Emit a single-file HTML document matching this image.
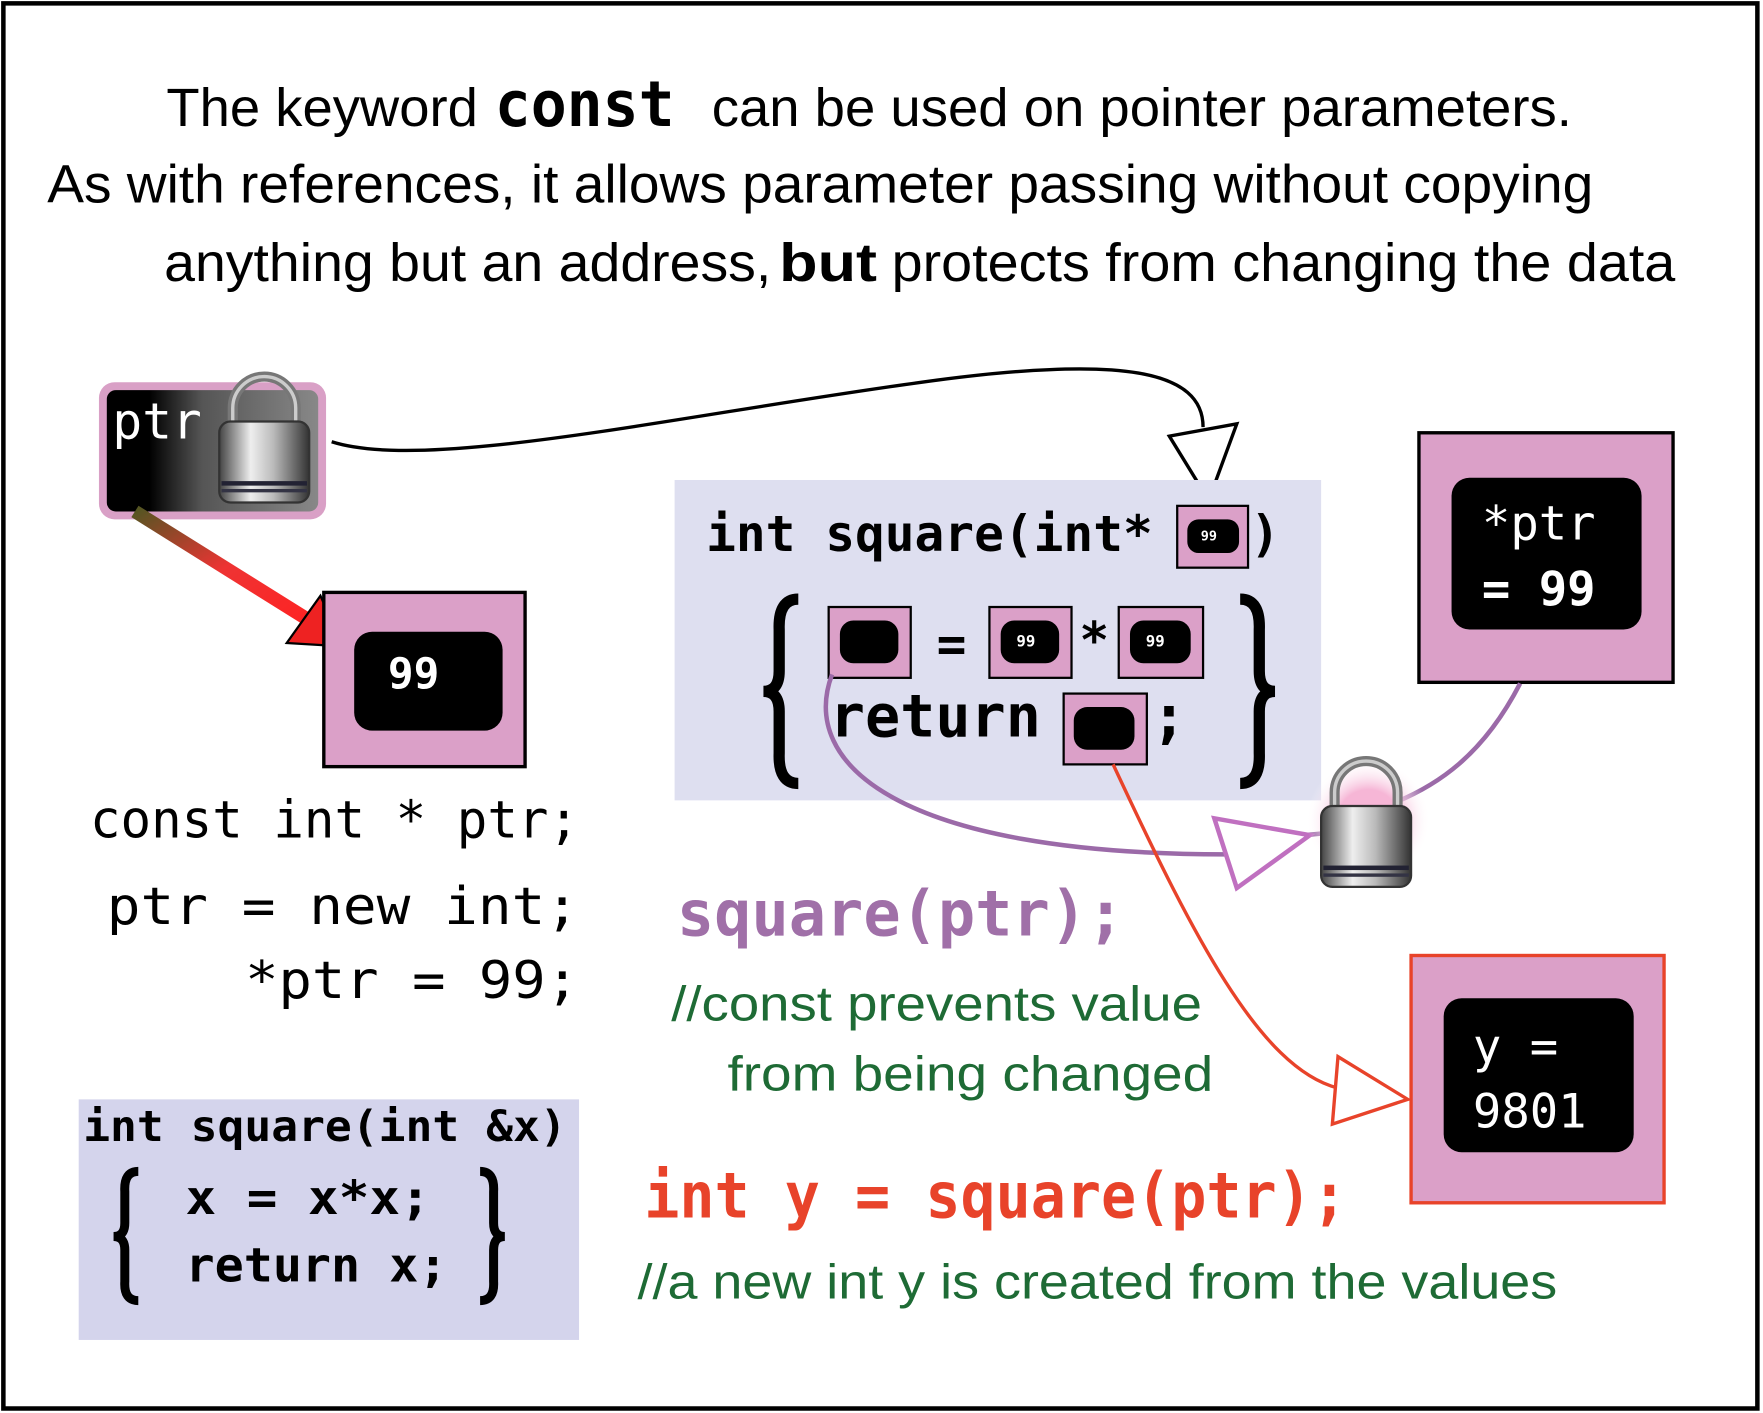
<!DOCTYPE html>
<html><head><meta charset="utf-8"><style>
html,body{margin:0;padding:0;background:#fff}
svg{display:block}
.mono{font-family:"DejaVu Sans Mono","Liberation Mono",monospace}
.sans{font-family:"Liberation Sans","DejaVu Sans",sans-serif}
</style></head><body>
<svg width="1763" height="1413" viewBox="0 0 1568 1257" preserveAspectRatio="none" xmlns="http://www.w3.org/2000/svg">
<defs>
<linearGradient id="ptrg" x1="0" x2="1" y1="0" y2="0">
<stop offset="0.2" stop-color="#000"/><stop offset="0.45" stop-color="#555"/><stop offset="1" stop-color="#888"/></linearGradient>
<linearGradient id="lockg" x1="0" x2="1">
<stop offset="0" stop-color="#444"/><stop offset="0.35" stop-color="#eee"/><stop offset="0.6" stop-color="#bbb"/><stop offset="1" stop-color="#333"/></linearGradient>
<linearGradient id="redarr" x1="0" y1="0" x2="1" y2="1">
<stop offset="0" stop-color="#552"/><stop offset="0.5" stop-color="#e33"/><stop offset="1" stop-color="#f22"/></linearGradient>
<radialGradient id="glow"><stop offset="0.5" stop-color="#f6b6d6"/><stop offset="1" stop-color="#fff" stop-opacity="0"/></radialGradient>
<g id="lock">
<path d="M12,45 V30 A28,28 0 0 1 68,30 V45" fill="none" stroke="#777" stroke-width="9"/>
<path d="M12,45 V30 A28,28 0 0 1 68,30 V45" fill="none" stroke="#ccc" stroke-width="3"/>
<rect x="0" y="42" width="80" height="72" rx="10" fill="url(#lockg)" stroke="#333" stroke-width="2"/>
<rect x="2" y="95" width="76" height="4" fill="#223"/>
<rect x="2" y="102" width="76" height="3" fill="#334"/>
</g>
</defs>
<rect x="3" y="3" width="1560" height="1250" fill="#fff" stroke="#000" stroke-width="4"/>

<!-- title -->
<text class="sans" font-size="48" y="112"><tspan x="148" textLength="277" lengthAdjust="spacingAndGlyphs">The keyword</tspan></text>
<text class="mono" font-size="56" font-weight="bold" x="440" y="112" textLength="160" lengthAdjust="spacingAndGlyphs">const</text>
<text class="sans" font-size="48" x="633" y="112" textLength="765" lengthAdjust="spacingAndGlyphs">can be used on pointer parameters.</text>
<text class="sans" font-size="48" x="42" y="180" textLength="1375" lengthAdjust="spacingAndGlyphs">As with references, it allows parameter passing without copying</text>
<text class="sans" font-size="48" x="146" y="250" textLength="540" lengthAdjust="spacingAndGlyphs">anything but an address,</text>
<text class="sans" font-size="48" font-weight="bold" x="693" y="250" textLength="87" lengthAdjust="spacingAndGlyphs">but</text>
<text class="sans" font-size="48" x="793" y="250" textLength="697" lengthAdjust="spacingAndGlyphs">protects from changing the data</text>

<!-- top connector -->
<path d="M295,393 C380,420 600,370 820,340 C1000,315 1070,330 1070,380" fill="none" stroke="#000" stroke-width="3"/>
<polygon points="1040,388 1100,377 1075,445" fill="#fff" stroke="#000" stroke-width="3"/>

<!-- ptr box -->
<rect x="88" y="340" width="202" height="122" rx="14" fill="#d9a0c6"/>
<rect x="95" y="347" width="188" height="108" rx="8" fill="url(#ptrg)"/>
<text class="mono" font-size="44" fill="#fff" x="100" y="390">ptr</text>
<use href="#lock" x="195" y="333"/>

<!-- red arrow -->
<line x1="120" y1="455" x2="280" y2="555" stroke="url(#redarr)" stroke-width="12"/>
<polygon points="305,575 255,572 285,530" fill="#ee2222" stroke="#000" stroke-width="2"/>

<!-- 99 box -->
<rect x="288" y="527" width="179" height="155" fill="#dba0c8" stroke="#000" stroke-width="3"/>
<rect x="315" y="562" width="132" height="88" rx="16" fill="#000"/>
<text class="mono" font-size="38" font-weight="bold" fill="#fff" x="345" y="612">99</text>

<!-- code -->
<text class="mono" font-size="46" x="80" y="745" textLength="435" lengthAdjust="spacingAndGlyphs">const int * ptr;</text>
<text class="mono" font-size="46" x="95" y="822" textLength="420" lengthAdjust="spacingAndGlyphs">ptr = new int;</text>
<text class="mono" font-size="46" x="218" y="888" textLength="297" lengthAdjust="spacingAndGlyphs">*ptr = 99;</text>

<!-- bottom-left box -->
<rect x="70" y="978" width="445" height="214" fill="#d4d4ec"/>
<text class="mono" font-size="38" font-weight="bold" x="74" y="1015" textLength="430" lengthAdjust="spacingAndGlyphs">int square(int &amp;x)</text>
<path d="M123,1042 Q110,1042 111,1060 L111,1088 Q111,1100 101,1100 Q111,1100 111,1112 L111,1140 Q110,1157 123,1157" fill="none" stroke="#000" stroke-width="8"/>
<path d="M427,1042 Q440,1042 439,1060 L439,1088 Q439,1100 449,1100 Q439,1100 439,1112 L439,1140 Q440,1157 427,1157" fill="none" stroke="#000" stroke-width="8"/>
<text class="mono" font-size="42" font-weight="bold" x="165" y="1080" textLength="218" lengthAdjust="spacingAndGlyphs">x = x*x;</text>
<text class="mono" font-size="42" font-weight="bold" x="165" y="1140" textLength="233" lengthAdjust="spacingAndGlyphs">return x;</text>

<!-- middle function box -->
<rect x="600" y="427" width="575" height="285" fill="#dedff0"/>
<text class="mono" font-size="44" font-weight="bold" x="628" y="490">int square(int*</text>
<rect x="1047" y="450" width="63" height="55" fill="#dba0c8" stroke="#000" stroke-width="2"/>
<rect x="1056" y="462" width="46" height="30" rx="10" fill="#000"/>
<text class="mono" font-size="12" font-weight="bold" fill="#fff" x="1068" y="481">99</text>
<text class="mono" font-size="44" font-weight="bold" x="1112" y="490">)</text>
<path d="M710,533 Q692,533 693,560 L693,597 Q693,615 679,615 Q693,615 693,633 L693,670 Q692,697 710,697" fill="none" stroke="#000" stroke-width="10"/>
<path d="M1103,533 Q1121,533 1120,560 L1120,597 Q1120,615 1134,615 Q1120,615 1120,633 L1120,670 Q1121,697 1103,697" fill="none" stroke="#000" stroke-width="10"/>
<rect x="737" y="540" width="73" height="63" fill="#dba0c8" stroke="#000" stroke-width="2"/>
<rect x="747" y="552" width="52" height="38" rx="12" fill="#000"/>
<text class="mono" font-size="44" font-weight="bold" x="833" y="588">=</text>
<rect x="880" y="540" width="73" height="63" fill="#dba0c8" stroke="#000" stroke-width="2"/>
<rect x="890" y="552" width="52" height="38" rx="12" fill="#000"/>
<text class="mono" font-size="14" font-weight="bold" fill="#fff" x="904" y="575">99</text>
<text class="mono" font-size="44" font-weight="bold" x="960" y="585">*</text>
<rect x="995" y="540" width="75" height="63" fill="#dba0c8" stroke="#000" stroke-width="2"/>
<rect x="1005" y="552" width="54" height="38" rx="12" fill="#000"/>
<text class="mono" font-size="14" font-weight="bold" fill="#fff" x="1019" y="575">99</text>
<text class="mono" font-size="52" font-weight="bold" x="738" y="655">return</text>
<rect x="946" y="617" width="74" height="63" fill="#dba0c8" stroke="#000" stroke-width="2"/>
<rect x="955" y="629" width="54" height="38" rx="12" fill="#000"/>
<text class="mono" font-size="52" font-weight="bold" x="1024" y="655">;</text>

<!-- right *ptr box -->
<rect x="1262" y="385" width="226" height="222" fill="#dba0c8" stroke="#000" stroke-width="3"/>
<rect x="1291" y="425" width="169" height="135" rx="16" fill="#000"/>
<text class="mono" font-size="42" fill="#fff" x="1318" y="480">*ptr</text>
<text class="mono" font-size="42" font-weight="bold" fill="#fff" x="1318" y="538">= 99</text>

<!-- purple curves -->
<path d="M1352,608 C1320,670 1280,700 1230,718" fill="none" stroke="#9b6aa8" stroke-width="4"/>
<path d="M740,600 C710,680 800,760 1090,760" fill="none" stroke="#9b6aa8" stroke-width="4"/>
<line x1="1140" y1="745" x2="1190" y2="740" stroke="#9b6aa8" stroke-width="4"/>
<polygon points="1080,728 1100,790 1165,743" fill="#fff" stroke="#c070c0" stroke-width="4"/>
<circle cx="1217" cy="730" r="55" fill="url(#glow)"/>
<use href="#lock" x="1175" y="675"/>

<!-- red curve -->
<path d="M990,680 C1060,830 1120,950 1190,968" fill="none" stroke="#e8432a" stroke-width="3"/>
<polygon points="1190,940 1185,1000 1252,978" fill="#fff" stroke="#e8432a" stroke-width="3"/>

<!-- y box -->
<rect x="1255" y="850" width="225" height="220" fill="#dba0c8" stroke="#e8432a" stroke-width="3"/>
<rect x="1284" y="888" width="169" height="137" rx="16" fill="#000"/>
<text class="mono" font-size="42" fill="#fff" x="1310" y="945">y =</text>
<text class="mono" font-size="42" fill="#fff" x="1310" y="1003">9801</text>

<!-- texts -->
<text class="mono" font-size="56" font-weight="bold" fill="#a070a8" x="602" y="832" textLength="398" lengthAdjust="spacingAndGlyphs">square(ptr);</text>
<text class="sans" font-size="44" fill="#1e6b35" x="597" y="908" textLength="472" lengthAdjust="spacingAndGlyphs">//const prevents value</text>
<text class="sans" font-size="44" fill="#1e6b35" x="647" y="970" textLength="432" lengthAdjust="spacingAndGlyphs">from being changed</text>
<text class="mono" font-size="56" font-weight="bold" fill="#e8432a" x="573" y="1083" textLength="625" lengthAdjust="spacingAndGlyphs">int y = square(ptr);</text>
<text class="sans" font-size="44" fill="#1e6b35" x="567" y="1155" textLength="818" lengthAdjust="spacingAndGlyphs">//a new int y is created from the values</text>
</svg>
</body></html>
